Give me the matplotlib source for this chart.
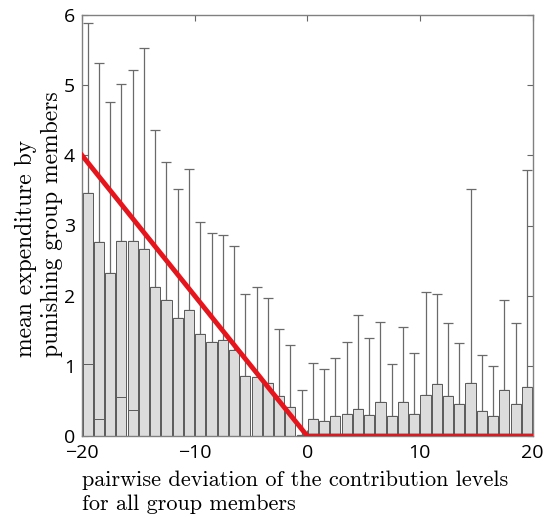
import numpy as np
import matplotlib
matplotlib.use('Agg')
import matplotlib.pyplot as plt

# deviation bins (centres) from -19.5 to 19.5
deviation = np.arange(-19.5, 20, 1.0)

mean_exp = [3.46, 2.77, 2.33, 2.78, 2.78, 2.67, 2.12, 1.94, 1.68, 1.80,
            1.45, 1.34, 1.37, 1.22, 0.86, 0.84, 0.76, 0.57, 0.41, 0.02,
            0.24, 0.22, 0.28, 0.31, 0.38, 0.30, 0.48, 0.28, 0.48, 0.31,
            0.58, 0.74, 0.57, 0.45, 0.75, 0.36, 0.29, 0.66, 0.45, 0.70]

upper = [5.89, 5.31, 4.76, 5.01, 5.21, 5.53, 4.36, 3.90, 3.52, 3.80,
         3.05, 2.90, 2.86, 2.71, 2.03, 2.12, 1.97, 1.53, 1.29, 0.66,
         1.04, 0.95, 1.11, 1.34, 1.73, 1.40, 1.63, 1.03, 1.55, 1.19,
         2.05, 2.03, 1.61, 1.32, 3.52, 1.15, 1.00, 1.94, 1.61, 3.79]

# the small overlaid bars at the far left
inner_x = [-19.5, -18.5, -16.5, -15.5]
inner_val = [1.02, 0.24, 0.55, 0.37]

# reference line
ref_x = [-20, 0, 20]
ref_y = [4, 0, 0]


def main():
    fig = plt.figure(figsize=(5.45, 5.15), dpi=100)
    ax = fig.add_axes([82 / 545, 79 / 515, 450.5 / 545, 421 / 515])

    err = np.array(upper) - np.array(mean_exp)
    ax.bar(deviation, mean_exp, width=0.9, color='#dcdcdc', edgecolor='#5a5a5a',
           linewidth=0.7, zorder=2)
    ax.bar(inner_x, inner_val, width=0.9, color='#dcdcdc', edgecolor='#5a5a5a',
           linewidth=0.7, zorder=2)
    ax.errorbar(deviation, upper, yerr=[err, np.zeros(len(err))], fmt='none',
                ecolor='#6a6a6a', elinewidth=0.9, capsize=3.5, capthick=0.9, zorder=1)
    ax.plot(ref_x, ref_y, color='#e3161d', linewidth=3.5, zorder=3)

    ax.set_xlim(-20, 20)
    ax.set_ylim(0, 6)
    ax.set_xticks([-20, -10, 0, 10, 20])
    ax.set_xticklabels(['\u221220', '\u221210', '0', '10', '20'])
    ax.set_yticks(range(7))
    ax.tick_params(direction='in', top=True, right=True, length=4, width=0.8,
                   color='#666666', labelsize=14)
    ax.tick_params(axis='y', pad=5)
    ax.tick_params(axis='x', pad=6)
    for lab in ax.get_xticklabels() + ax.get_yticklabels():
        lab.set_family('Open Sans')
    for sp in ax.spines.values():
        sp.set_color('#808080')
        sp.set_linewidth(1.0)

    fig.text(82 / 545, 1 - 492.5 / 515,
             'pairwise deviation of the contribution levels\nfor all group members',
             family='cmr10', fontsize=16, ha='left', va='center', linespacing=1.27)
    fig.text(15 / 545, 1 - 357 / 515,
             'mean expenditure by\npunishing group members',
             family='cmr10', fontsize=17, rotation=90, ha='left', va='bottom',
             linespacing=1.22)

    fig.savefig('out.png', dpi=100)


if __name__ == "__main__":
    main()
